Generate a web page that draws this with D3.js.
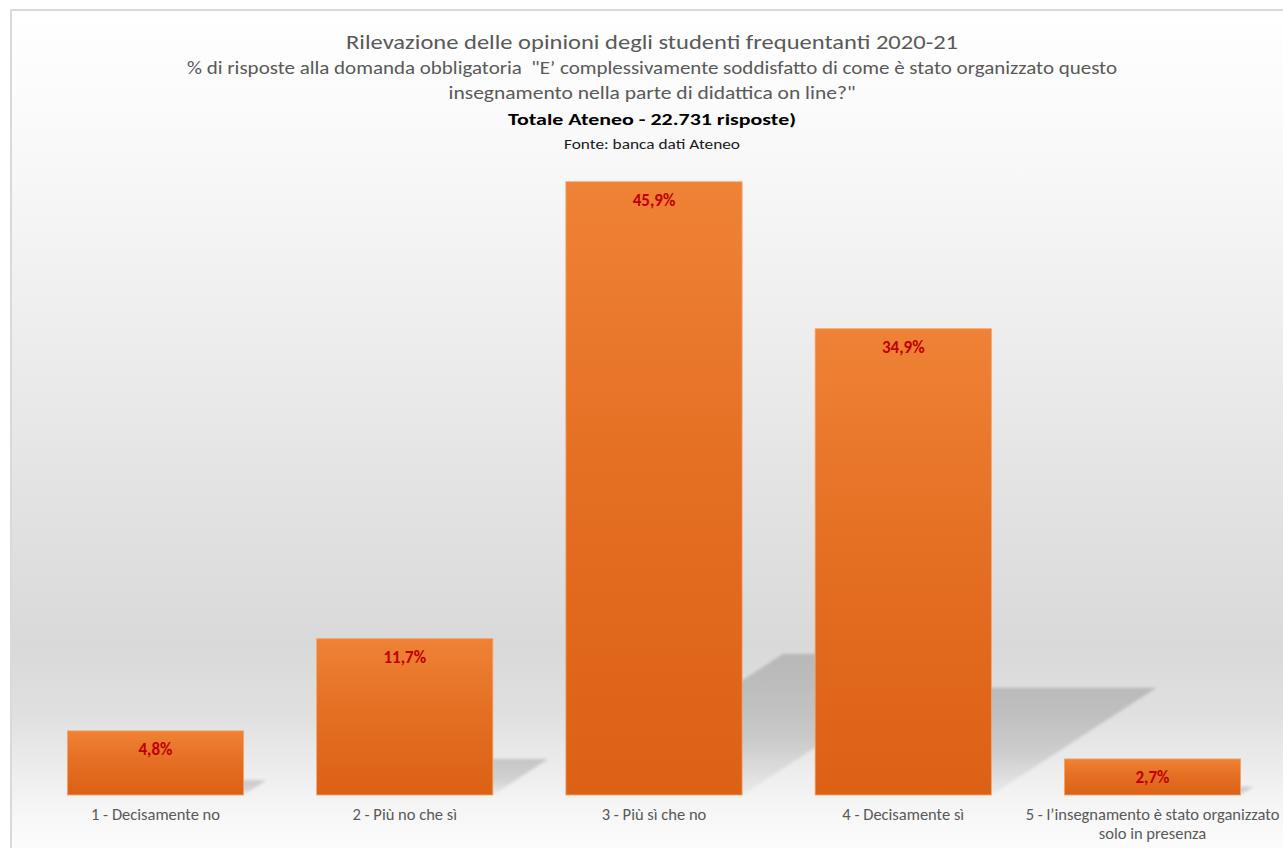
<!DOCTYPE html>
<html>
<head>
<meta charset="utf-8">
<script src="https://cdn.jsdelivr.net/npm/d3@7/dist/d3.min.js"></script>
<style>
  html, body { margin: 0; padding: 0; background: #ffffff; }
  svg { display: block; }
  text { font-family: Carlito, Calibri, Lato, "Open Sans", sans-serif; }
</style>
</head>
<body>
<svg id="chart" width="1283" height="848"></svg>
<script>
const categories = [
  "1 - Decisamente no",
  "2 - Più no che sì",
  "3 - Più sì che no",
  "4 - Decisamente sì",
  "5 - l’insegnamento è stato organizzato solo in presenza"
];
const values = [4.8, 11.7, 45.9, 34.9, 2.7];
const valueLabels = ["4,8%", "11,7%", "45,9%", "34,9%", "2,7%"];
const titleLines = [
  "Rilevazione delle opinioni degli studenti frequentanti 2020-21",
  "% di risposte alla domanda obbligatoria  \"E’ complessivamente soddisfatto di come è stato organizzato questo",
  "insegnamento nella parte di didattica on line?\"",
  "Totale Ateneo - 22.731 risposte)",
  "Fonte: banca dati Ateneo"
];

const W = 1283, H = 848;
const svg = d3.select("#chart");
const defs = svg.append("defs");

// background gradient
const bg = defs.append("linearGradient").attr("id", "bgGrad")
  .attr("x1", 0).attr("y1", 0).attr("x2", 0).attr("y2", 1);
[[0, "#ffffff"], [0.18, "#f8f8f8"], [0.45, "#e9e9e9"], [0.74, "#d9d9d9"], [0.82, "#e0e0e0"], [0.93, "#f6f6f6"], [1, "#ffffff"]]
  .forEach(([o, c]) => bg.append("stop").attr("offset", o).attr("stop-color", c));

// bar gradient
const bgr = defs.append("linearGradient").attr("id", "barGrad")
  .attr("x1", 0).attr("y1", 0).attr("x2", 0).attr("y2", 1);
bgr.append("stop").attr("offset", 0).attr("stop-color", "#ef8236");
bgr.append("stop").attr("offset", 0.5).attr("stop-color", "#e46e22");
bgr.append("stop").attr("offset", 1).attr("stop-color", "#dc6114");

// shadow gradient
const sg = defs.append("linearGradient").attr("id", "shGrad")
  .attr("x1", 0).attr("y1", 0).attr("x2", 0).attr("y2", 1);
sg.append("stop").attr("offset", 0).attr("stop-color", "#000").attr("stop-opacity", 0.16);
sg.append("stop").attr("offset", 0.6).attr("stop-color", "#000").attr("stop-opacity", 0.12);
sg.append("stop").attr("offset", 1).attr("stop-color", "#000").attr("stop-opacity", 0.03);

const blur = defs.append("filter").attr("id", "blur")
  .attr("x", "-10%").attr("y", "-10%").attr("width", "120%").attr("height", "120%");
blur.append("feGaussianBlur").attr("stdDeviation", 1.6);

// chart area
svg.append("rect").attr("x", 11).attr("y", 10).attr("width", 1283).attr("height", 860)
  .attr("fill", "url(#bgGrad)").attr("stroke", "#d9d9d9").attr("stroke-width", 2);

// scales
const x = d3.scaleBand().domain(categories).range([31, 1277]).paddingInner(0.293).paddingOuter(0.146);
const y = d3.scaleLinear().domain([0, 50]).range([795, 127]);
const bw = x.bandwidth();
const base = y(0);

// shadows
svg.append("g").selectAll("polygon").data(categories).join("polygon")
  .attr("points", (c, i) => {
    const x0 = x(c), x1 = x0 + bw, h = base - y(values[i]);
    const dx = 0.354 * h, dy = 0.23 * h;
    return [[x0, base], [x1, base], [x1 + dx, base - dy], [x0 + dx, base - dy]].map(p => p.join(",")).join(" ");
  })
  .attr("fill", "url(#shGrad)")
  .attr("filter", "url(#blur)");

// bars
svg.append("g").selectAll("rect").data(categories).join("rect")
  .attr("x", c => x(c))
  .attr("y", (c, i) => y(values[i]))
  .attr("width", bw)
  .attr("height", (c, i) => base - y(values[i]))
  .attr("fill", "url(#barGrad)")
  .attr("stroke", "#f3a56c").attr("stroke-width", 0.8);

// value labels
svg.append("g").selectAll("text").data(categories).join("text")
  .attr("x", c => x(c) + bw / 2)
  .attr("y", (c, i) => y(values[i]) + 24)
  .attr("text-anchor", "middle")
  .attr("fill", "#c00000")
  .attr("font-weight", "bold")
  .attr("font-size", 17)
  .text((c, i) => valueLabels[i]);

// x axis labels
const xAxis = d3.axisBottom(x).tickSize(0).tickPadding(0);
const gx = svg.append("g").attr("transform", `translate(0,${base})`).call(xAxis);
gx.select(".domain").remove();
gx.selectAll(".tick text")
  .attr("fill", "#595959")
  .attr("font-size", 16.5)
  .attr("font-family", "Carlito, Calibri, Lato, 'Open Sans', sans-serif")
  .attr("dy", null)
  .attr("y", 25)
  .each(function() {
    const t = d3.select(this);
    const words = t.text().split(/\s+/);
    t.text(null);
    let line = [], lineNo = 0;
    let ts = t.append("tspan").attr("x", 0).attr("y", 25);
    for (const w of words) {
      line.push(w);
      ts.text(line.join(" "));
      if (ts.node().getComputedTextLength() > 278 && line.length > 1) {
        line.pop();
        ts.text(line.join(" "));
        line = [w];
        lineNo++;
        ts = t.append("tspan").attr("x", 0).attr("y", 25 + lineNo * 19).text(w);
      }
    }
  });

// titles
const tspecs = [
  { y: 49, size: 20, color: "#595959", weight: "normal", w: 612 },
  { y: 74, size: 17.5, color: "#595959", weight: "normal", w: 930 },
  { y: 99, size: 17.5, color: "#595959", weight: "normal", w: 407 },
  { y: 125, size: 16.5, color: "#000000", weight: "bold", w: 288 },
  { y: 149, size: 14, color: "#1a1a1a", weight: "normal", w: 176 }
];
svg.append("g").selectAll("text").data(titleLines).join("text")
  .attr("x", 652)
  .attr("y", (d, i) => tspecs[i].y)
  .attr("text-anchor", "middle")
  .attr("font-size", (d, i) => tspecs[i].size)
  .attr("font-weight", (d, i) => tspecs[i].weight)
  .attr("fill", (d, i) => tspecs[i].color)
  .attr("textLength", (d, i) => tspecs[i].w)
  .attr("lengthAdjust", "spacingAndGlyphs")
  .style("white-space", "pre")
  .text(d => d);
</script>
</body>
</html>
